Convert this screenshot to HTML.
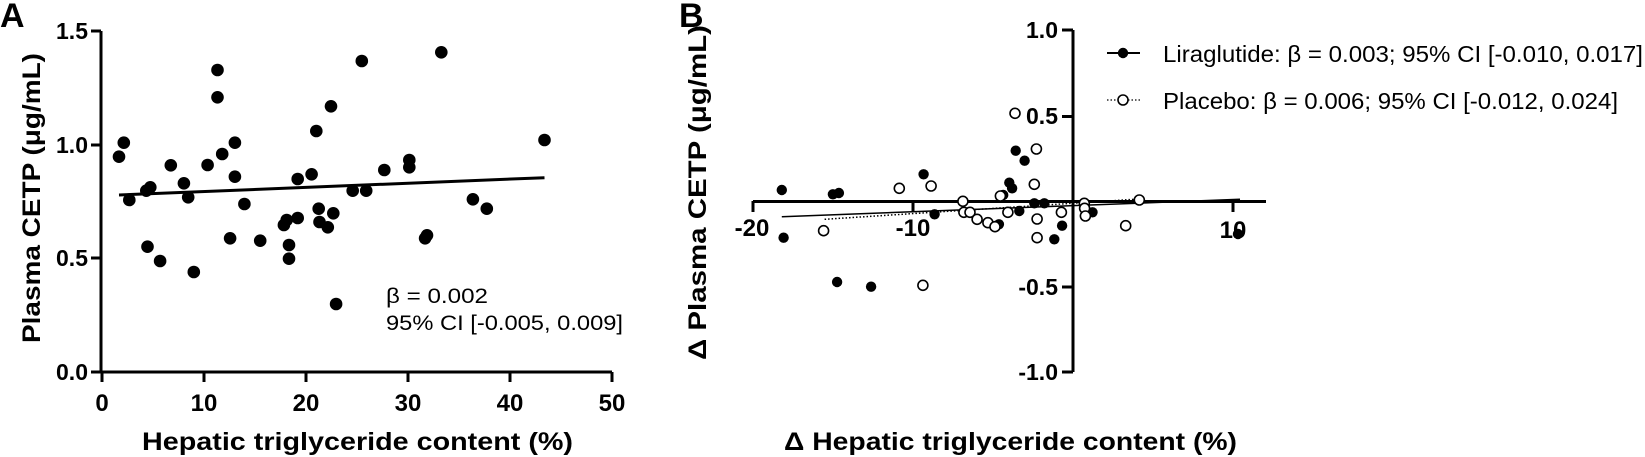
<!DOCTYPE html>
<html><head><meta charset="utf-8"><style>
html,body{margin:0;padding:0;background:#fff;}
svg{display:block;font-family:"Liberation Sans",Arial,sans-serif;}
.b{font-weight:bold;}
</style></head><body>
<svg width="1645" height="457" viewBox="0 0 1645 457" xmlns="http://www.w3.org/2000/svg">
<!-- Panel A -->
<text x="0" y="27" class="b" font-size="34">A</text>
<g stroke="#000" stroke-width="3" fill="none">
<path d="M101 31 V372 H612"/>
<path d="M91 31 H101 M91 145 H101 M91 258 H101 M91 372 H101"/>
<path d="M102 372 V382 M204 372 V382 M306 372 V382 M408 372 V382 M510 372 V382 M612 372 V382"/>
</g>
<g class="b" font-size="23" text-anchor="end">
<text x="88" y="39">1.5</text><text x="88" y="153">1.0</text><text x="88" y="266">0.5</text><text x="88" y="380">0.0</text>
</g>
<g class="b" font-size="24" text-anchor="middle">
<text x="102" y="411">0</text><text x="204" y="411">10</text><text x="306" y="411">20</text><text x="408" y="411">30</text><text x="510" y="411">40</text><text x="612" y="411">50</text>
</g>
<text x="142" y="450" class="b" font-size="25" textLength="431" lengthAdjust="spacingAndGlyphs">Hepatic triglyceride content  (%)</text>
<text transform="translate(40,343) rotate(-90)" class="b" font-size="25" textLength="290" lengthAdjust="spacingAndGlyphs">Plasma CETP (μg/mL)</text>
<text x="386" y="303" font-size="21" textLength="102" lengthAdjust="spacingAndGlyphs">β = 0.002</text>
<text x="386" y="330" font-size="21" textLength="237" lengthAdjust="spacingAndGlyphs">95% CI [-0.005, 0.009]</text>
<line x1="119" y1="195" x2="544.5" y2="177.7" stroke="#000" stroke-width="3"/>
<g fill="#000">
<circle cx="119" cy="156.7" r="6.3"/><circle cx="123.8" cy="142.7" r="6.3"/><circle cx="129.3" cy="200" r="6.3"/><circle cx="146.3" cy="190.7" r="6.3"/><circle cx="150.3" cy="187.3" r="6.3"/><circle cx="147.5" cy="246.7" r="6.3"/><circle cx="160.1" cy="261" r="6.3"/><circle cx="170.8" cy="165.3" r="6.3"/><circle cx="183.9" cy="183.3" r="6.3"/><circle cx="188.2" cy="197.3" r="6.3"/><circle cx="193.8" cy="272" r="6.3"/><circle cx="207.6" cy="165" r="6.3"/><circle cx="217.5" cy="70" r="6.3"/><circle cx="217.5" cy="97.3" r="6.3"/><circle cx="222.2" cy="154" r="6.3"/><circle cx="230.1" cy="238.3" r="6.3"/><circle cx="234.9" cy="142.7" r="6.3"/><circle cx="234.9" cy="176.7" r="6.3"/><circle cx="244.4" cy="204" r="6.3"/><circle cx="260.2" cy="240.7" r="6.3"/><circle cx="283.9" cy="225" r="6.3"/><circle cx="286.7" cy="220" r="6.3"/><circle cx="289" cy="245" r="6.3"/><circle cx="289" cy="258.7" r="6.3"/><circle cx="297.7" cy="218" r="6.3"/><circle cx="297.7" cy="179" r="6.3"/><circle cx="311.6" cy="174.3" r="6.3"/><circle cx="316.3" cy="131" r="6.3"/><circle cx="318.7" cy="208.7" r="6.3"/><circle cx="319.5" cy="222" r="6.3"/><circle cx="327.8" cy="227.3" r="6.3"/><circle cx="331" cy="106.3" r="6.3"/><circle cx="333.3" cy="213.3" r="6.3"/><circle cx="336.1" cy="304" r="6.3"/><circle cx="352.7" cy="190.7" r="6.3"/><circle cx="361.8" cy="61" r="6.3"/><circle cx="366.2" cy="190.7" r="6.3"/><circle cx="384.3" cy="170" r="6.3"/><circle cx="409.3" cy="160" r="6.3"/><circle cx="409.3" cy="167.3" r="6.3"/><circle cx="425.1" cy="238.3" r="6.3"/><circle cx="427" cy="235.3" r="6.3"/><circle cx="441.3" cy="52.3" r="6.3"/><circle cx="472.9" cy="199.3" r="6.3"/><circle cx="486.8" cy="208.7" r="6.3"/><circle cx="544.5" cy="140" r="6.3"/>
</g>

<!-- Panel B -->
<text x="679" y="27" class="b" font-size="34">B</text>
<g stroke="#000" stroke-width="3" fill="none">
<path d="M1073 30 V372"/>
<path d="M753 201.5 H1266"/>
<path d="M1062 30 H1073 M1062 116.5 H1073 M1062 287 H1073 M1062 372 H1073"/>
<path d="M753 201 V212 M913 201 V212 M1233 201 V212"/>
</g>
<g class="b" font-size="23" text-anchor="end">
<text x="1058" y="38">1.0</text><text x="1058" y="124">0.5</text><text x="1058" y="295">-0.5</text><text x="1058" y="380">-1.0</text>
</g>
<g class="b" font-size="24" text-anchor="middle">
<text x="752" y="236">-20</text><text x="913" y="236">-10</text><text x="1233" y="238">10</text>
</g>
<text x="784" y="450" class="b" font-size="25" textLength="453" lengthAdjust="spacingAndGlyphs">Δ Hepatic triglyceride content  (%)</text>
<text transform="translate(706,360) rotate(-90)" class="b" font-size="25" textLength="335" lengthAdjust="spacingAndGlyphs">Δ Plasma CETP (μg/mL)</text>
<!-- legend -->
<line x1="1107" y1="53" x2="1140" y2="53" stroke="#000" stroke-width="2"/>
<circle cx="1123" cy="53" r="5.2" fill="#000"/>
<line x1="1107" y1="100" x2="1140" y2="100" stroke="#000" stroke-width="1.3" stroke-dasharray="1.5,2"/>
<circle cx="1123" cy="100" r="5" fill="#fff" stroke="#000" stroke-width="1.6"/>
<text x="1163" y="62" font-size="23" textLength="480" lengthAdjust="spacingAndGlyphs">Liraglutide: β = 0.003; 95% CI [-0.010, 0.017]</text>
<text x="1163" y="109" font-size="23" textLength="455" lengthAdjust="spacingAndGlyphs">Placebo: β = 0.006; 95% CI [-0.012, 0.024]</text>
<!-- regression lines -->
<line x1="781.8" y1="216.7" x2="1240" y2="199.3" stroke="#000" stroke-width="1.5"/>
<line x1="824.6" y1="219.3" x2="1138.9" y2="199" stroke="#000" stroke-width="1.5" stroke-dasharray="1.5,2"/>
<g fill="#000">
<circle cx="781.8" cy="190" r="5.2"/><circle cx="783.6" cy="237.7" r="5.2"/><circle cx="832.9" cy="194.3" r="5.2"/><circle cx="838.9" cy="193" r="5.2"/><circle cx="837.1" cy="282" r="5.2"/><circle cx="871.1" cy="286.7" r="5.2"/><circle cx="923.6" cy="174.3" r="5.2"/><circle cx="934.6" cy="214.3" r="5.2"/><circle cx="998.9" cy="224.3" r="5.2"/><circle cx="1003.2" cy="195" r="5.2"/><circle cx="1009.3" cy="182.7" r="5.2"/><circle cx="1012.1" cy="188.3" r="5.2"/><circle cx="1015.7" cy="150.7" r="5.2"/><circle cx="1019.3" cy="211" r="5.2"/><circle cx="1024.6" cy="160.7" r="5.2"/><circle cx="1034.3" cy="203.3" r="5.2"/><circle cx="1044.3" cy="203.3" r="5.2"/><circle cx="1054.3" cy="239.3" r="5.2"/><circle cx="1062.1" cy="225.7" r="5.2"/><circle cx="1092.5" cy="212.3" r="5.2"/><circle cx="1238" cy="234" r="5.2"/>
</g>
<g fill="#fff" stroke="#000" stroke-width="1.6">
<circle cx="823.6" cy="230.7" r="5"/><circle cx="899.3" cy="188.3" r="5"/><circle cx="922.9" cy="285.3" r="5"/><circle cx="931.1" cy="186" r="5"/><circle cx="962.9" cy="201.3" r="5"/><circle cx="963.9" cy="212.3" r="5"/><circle cx="970" cy="212.3" r="5"/><circle cx="977.1" cy="219.3" r="5"/><circle cx="987.9" cy="222.7" r="5"/><circle cx="995" cy="226.7" r="5"/><circle cx="1000.4" cy="196" r="5"/><circle cx="1007.9" cy="212.3" r="5"/><circle cx="1015" cy="113.3" r="5"/><circle cx="1034.3" cy="184.3" r="5"/><circle cx="1036.4" cy="149" r="5"/><circle cx="1037.1" cy="219" r="5"/><circle cx="1037.1" cy="237.7" r="5"/><circle cx="1061.4" cy="212.3" r="5"/><circle cx="1084.3" cy="203.3" r="5"/><circle cx="1084.6" cy="208.3" r="5"/><circle cx="1085.4" cy="216" r="5"/><circle cx="1125.7" cy="225.7" r="5"/><circle cx="1139.3" cy="200" r="5"/>
</g>
</svg>
</body></html>
